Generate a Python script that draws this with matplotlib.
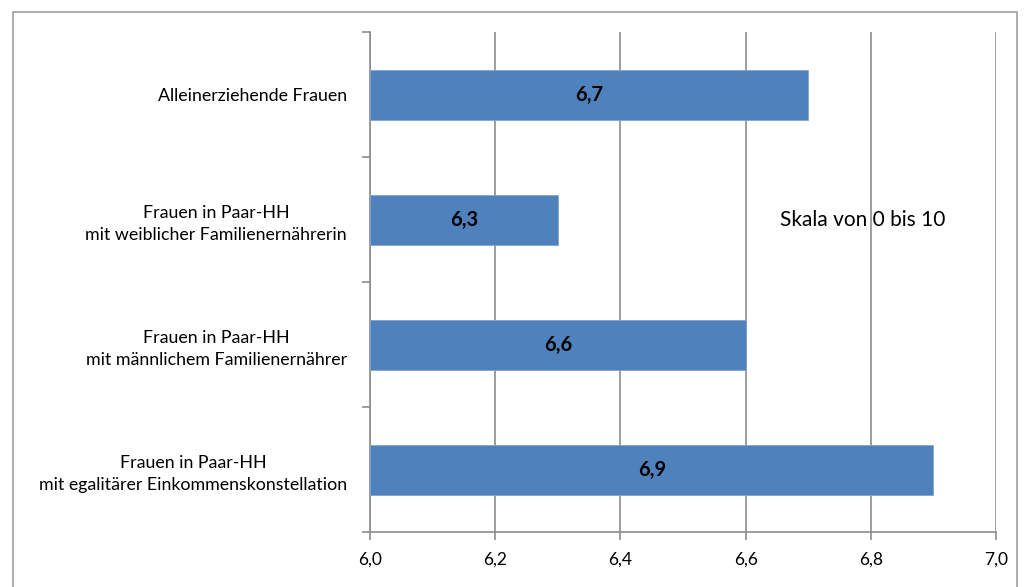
import matplotlib
matplotlib.use("Agg")
import matplotlib.pyplot as plt
from matplotlib.patches import Rectangle

# Daten (von oben nach unten)
kategorien = [
    "Alleinerziehende Frauen",
    "Frauen in Paar-HH\nmit weiblicher Familienernährerin",
    "Frauen in Paar-HH\nmit männlichem Familienernährer",
    "Frauen in Paar-HH\nmit egalitärer Einkommenskonstellation",
]
werte = [6.7, 6.3, 6.6, 6.9]
x_ticks = [6.0, 6.2, 6.4, 6.6, 6.8, 7.0]
x_labels = ["6,0", "6,2", "6,4", "6,6", "6,8", "7,0"]

plt.rcParams["font.family"] = ["Lato", "DejaVu Sans"]

fig = plt.figure(figsize=(10.24, 5.87), dpi=100)
ax = fig.add_axes([370 / 1024, 1 - 532 / 587, 626 / 1024, 500 / 587])

# Rahmen um das ganze Diagramm
fig.patches.append(Rectangle((13 / 1024, -0.05), (1017 - 13) / 1024, 1.05 - 12 / 587,
                             transform=fig.transFigure, fill=False,
                             edgecolor="#a0a0a0", linewidth=1.2))

n = len(kategorien)
pos = [n - 1 - i for i in range(n)]
ax.barh(pos, [w - 6.0 for w in werte], left=6.0, height=0.4,
        color="#4f81bd", edgecolor="#7ea3d3", linewidth=0.6, zorder=3)

for p, w in zip(pos, werte):
    ax.text((6.0 + w) / 2, p, f"{w:.1f}".replace(".", ","), ha="center", va="center",
            fontsize=14.5, fontweight="bold", color="black", zorder=4)

ax.set_xlim(6.0, 7.0)
ax.set_ylim(-0.5, n - 0.5)
ax.set_xticks(x_ticks)
ax.set_xticklabels(x_labels, fontsize=12.5)
ax.xaxis.grid(True, color="#8c8c8c", linewidth=1.2, zorder=0)

ax.set_yticks(pos)
ax.set_yticklabels(kategorien, fontsize=12.8, multialignment="center",
                   linespacing=1.45)
ax.tick_params(axis="y", length=0, pad=16.5)
ax.set_yticks([i - 0.5 for i in range(n + 1)], minor=True)
ax.tick_params(axis="y", which="minor", length=6, color="#8c8c8c", width=1.2)
ax.tick_params(axis="x", length=6, color="#8c8c8c", width=1.2, pad=8)

for s in ["top", "right"]:
    ax.spines[s].set_visible(False)
for s in ["left", "bottom"]:
    ax.spines[s].set_color("#8c8c8c")
    ax.spines[s].set_linewidth(1.2)

ax.text(0.655, 0.623, "Skala von 0 bis 10", transform=ax.transAxes,
        fontsize=15, ha="left", va="center")

fig.savefig("out.png", dpi=100)
